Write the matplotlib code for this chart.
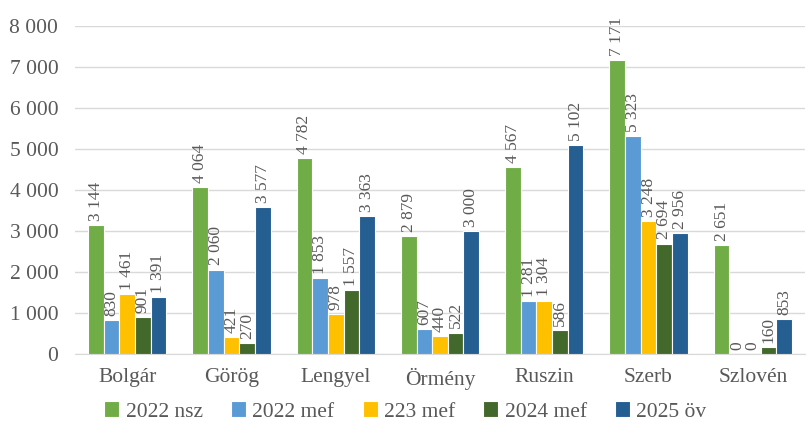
import matplotlib
matplotlib.use("Agg")
import matplotlib.pyplot as plt
import numpy as np

categories = ["Bolgár", "Görög", "Lengyel", "Örmény", "Ruszin", "Szerb", "Szlovén"]
series_names = ["2022 nsz", "2022 mef", "223 mef", "2024 mef", "2025 öv"]
s2022_nsz = [3144, 4064, 4782, 2879, 4567, 7171, 2651]
s2022_mef = [830, 2060, 1853, 607, 1281, 5323, 0]
s223_mef = [1461, 421, 978, 440, 1304, 3248, 0]
s2024_mef = [901, 270, 1557, 522, 586, 2694, 160]
s2025_ov = [1391, 3577, 3363, 3000, 5102, 2956, 853]
yticks = [0, 1000, 2000, 3000, 4000, 5000, 6000, 7000, 8000]

colors = ["#70AD47", "#5B9BD5", "#FFC000", "#43682B", "#255E91"]
series = [s2022_nsz, s2022_mef, s223_mef, s2024_mef, s2025_ov]

plt.rcParams['font.family'] = ['Liberation Serif', 'DejaVu Serif']
txt = "#595959"

def fmt(v):
    return f"{v:,}".replace(",", " ")

fig = plt.figure(figsize=(8.11, 4.30), dpi=100)
ax = fig.add_axes([0.0925, 0.1767, 0.9, 0.7628])

x = np.arange(len(categories))
w = 0.15
for i, (vals, c, name) in enumerate(zip(series, colors, series_names)):
    pos = x + (i - 2) * w
    ax.bar(pos, vals, w, color=c, edgecolor="white", linewidth=0.8, label=name, zorder=3)
    for p, v in zip(pos, vals):
        ax.annotate(fmt(v), (p, v), xytext=(0, 3), textcoords="offset points",
                    rotation=90, ha="center", va="bottom", fontsize=12.5, color=txt)

ax.set_xlim(-0.5, len(categories) - 0.5)
ax.set_ylim(0, 8000)
ax.set_yticks(yticks)
ax.set_yticklabels([fmt(t) for t in yticks])
ax.set_xticks(x)
ax.set_xticklabels(categories)
ax.tick_params(axis="both", length=0, labelsize=15.5, colors=txt)
ax.tick_params(axis="y", pad=12)
ax.tick_params(axis="x", pad=10)
ax.grid(axis="y", color="#D9D9D9", linewidth=1, zorder=0)
for s in ["top", "right", "left"]:
    ax.spines[s].set_visible(False)
ax.spines["bottom"].set_color("#D9D9D9")

leg = fig.legend(loc="center", bbox_to_anchor=(0.5, 0.043), ncol=5, frameon=False,
                 fontsize=15.5, handlelength=0.7, handleheight=0.7, handletextpad=0.3,
                 columnspacing=1.3)
for t in leg.get_texts():
    t.set_color(txt)

fig.savefig("out.png", dpi=100)
